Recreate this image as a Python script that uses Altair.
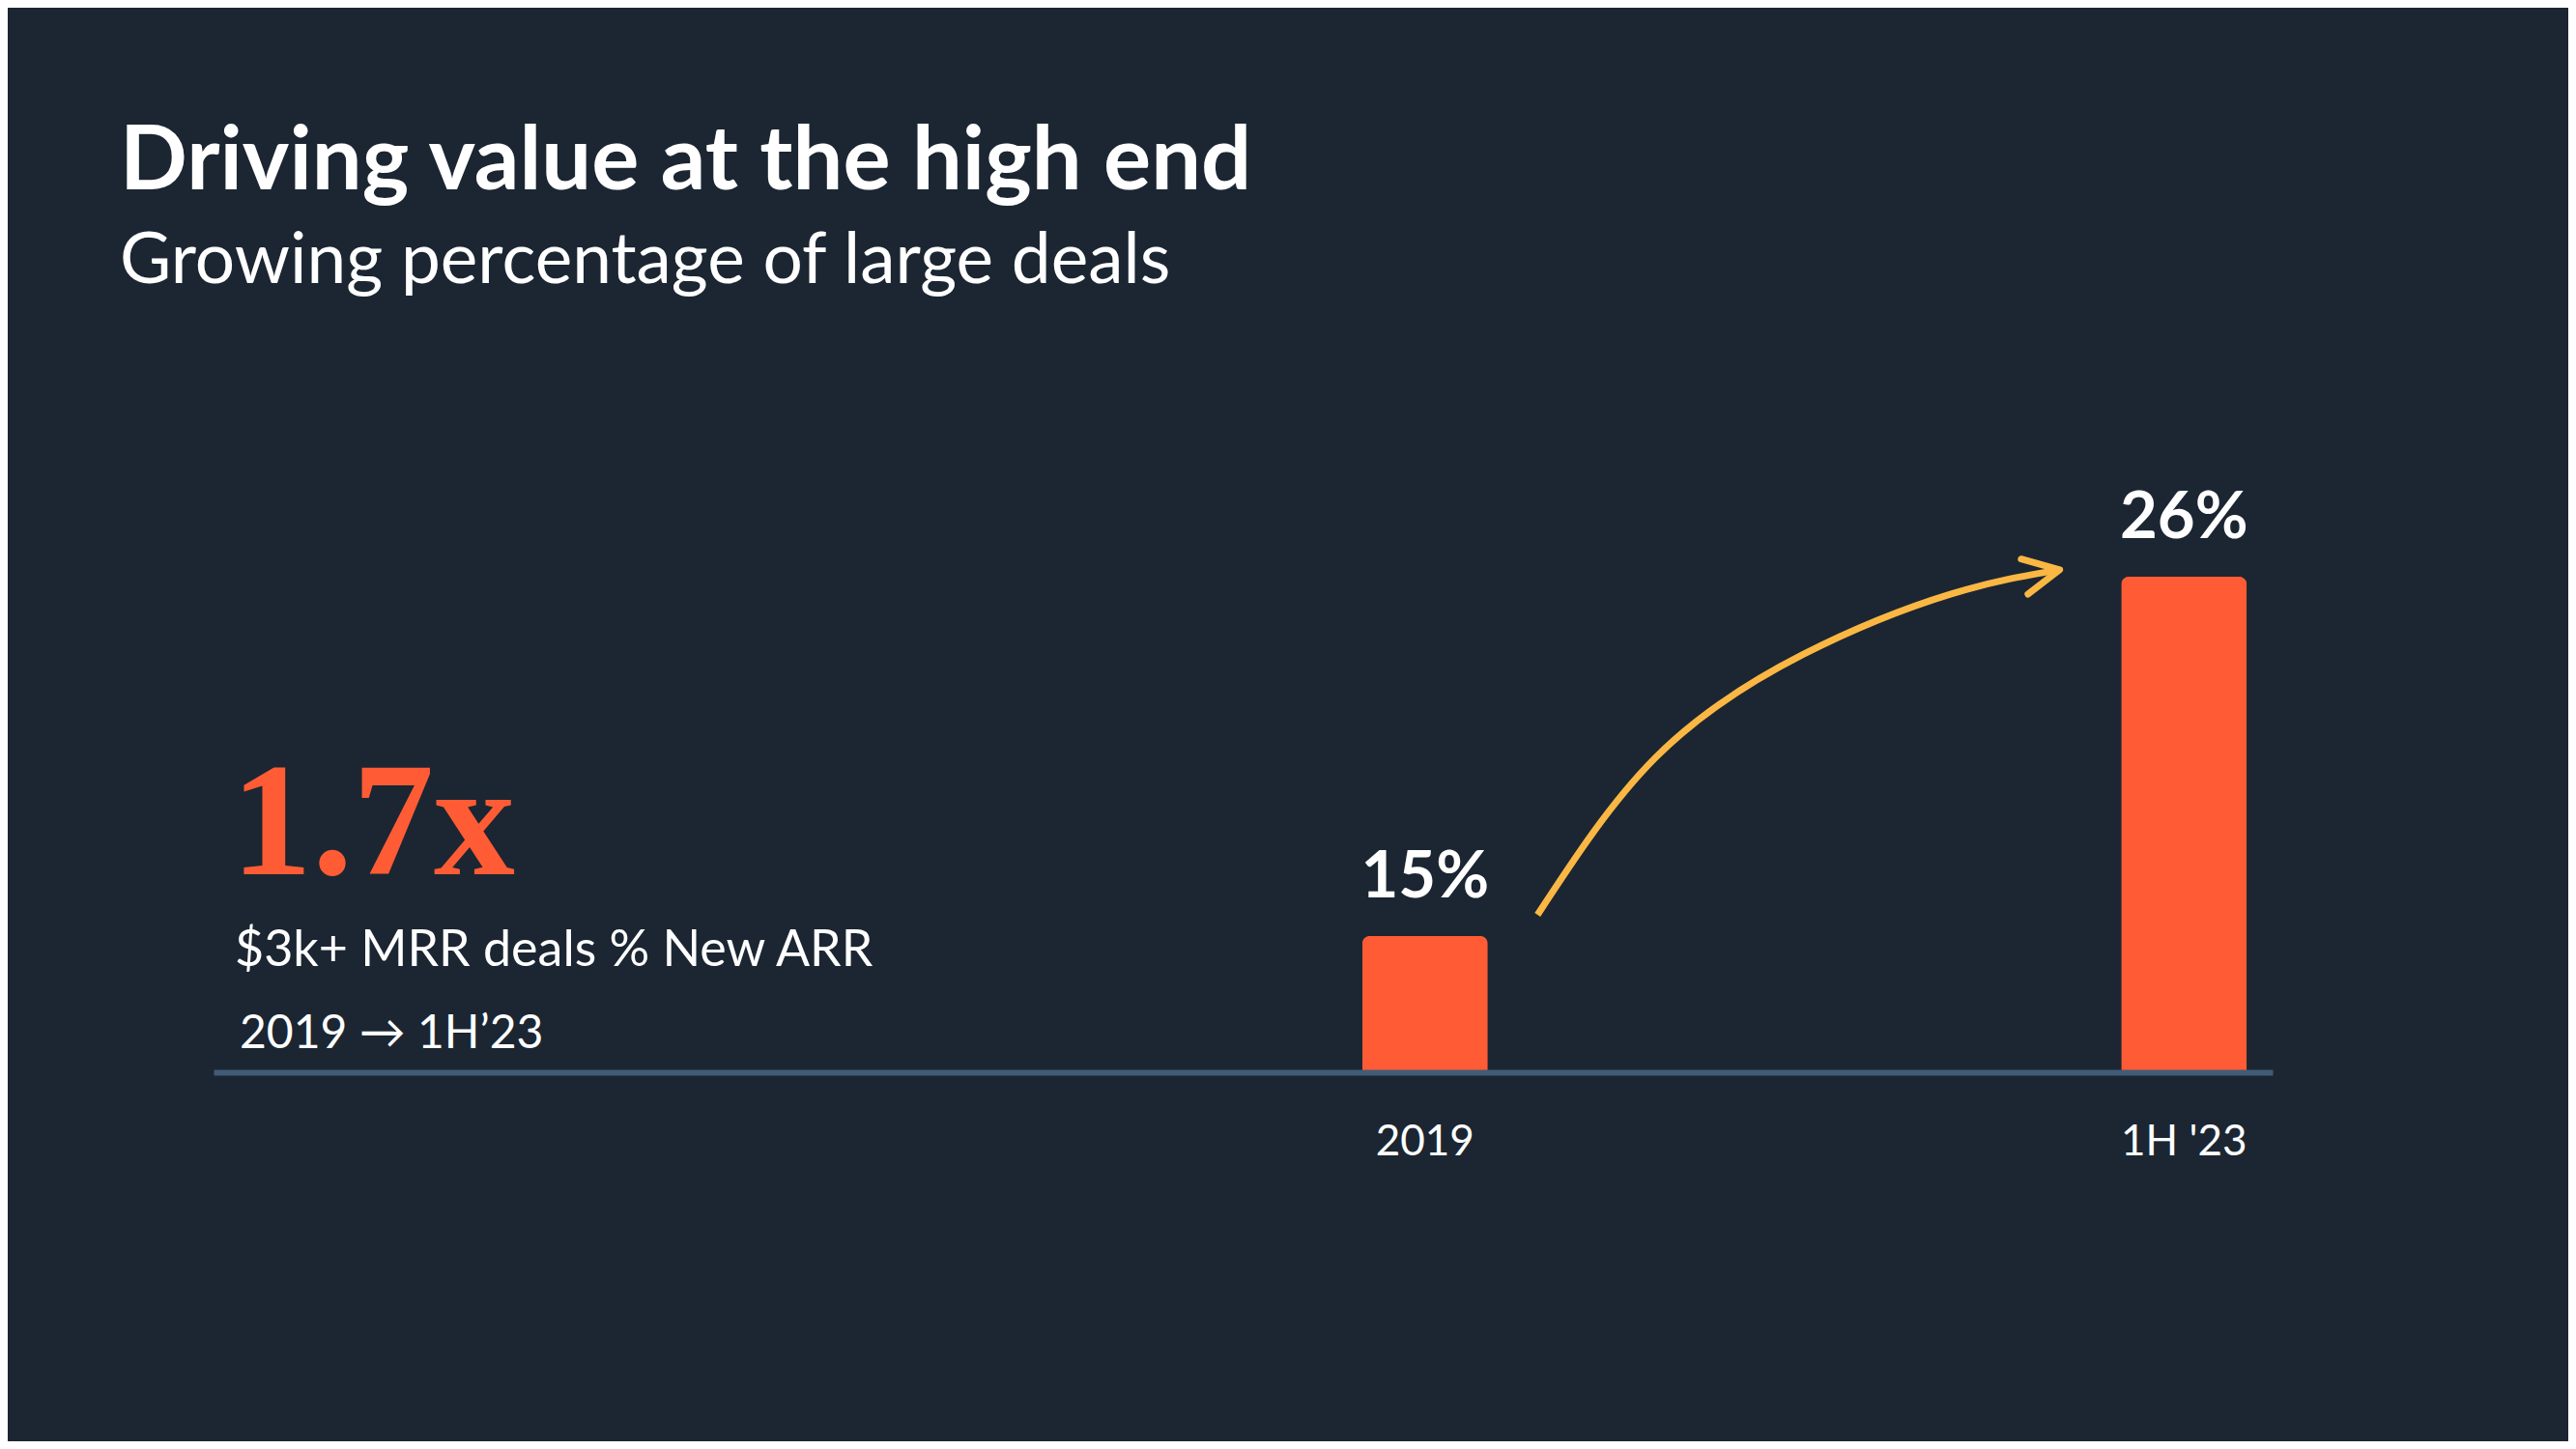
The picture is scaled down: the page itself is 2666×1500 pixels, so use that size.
import altair as alt
import pandas as pd

# ---- data ----
categories = ["2019", "1H '23"]
values = [15, 26]

# arrow annotation path (x in "category steps" from the 2019 bar centre, y in % units)
arrow_t = [0.148, 0.303, 0.498, 0.693, 0.836]
arrow_v = [15.65, 20.45, 23.62, 25.47, 26.21]

headline = ["1.7x"]
metric_label = ["$3k+ MRR deals % New ARR"]
period_label = ["2019 → 1H’23"]
title_text = "Driving value at the high end"
subtitle_text = "Growing percentage of large deals"

# ---- styling ----
BG = "#1B2632"
ORANGE = "#FF5C35"
AXIS = "#425B76"
ARROW = "#FBB744"
FONT = "Lato"

W, H = 2131, 716

bars_df = pd.DataFrame({"category": categories, "value": values})
arrow_df = pd.DataFrame({"t": arrow_t, "v": arrow_v})
tip_df = pd.DataFrame({"t": [arrow_t[-1]], "v": [arrow_v[-1]]})

yscale = alt.Scale(domain=[10.83, 32], zero=False, nice=False, clamp=True)
xband = alt.Scale(type="band", paddingInner=0.8345, paddingOuter=0.7737, align=0.978)
tscale = alt.Scale(domain=[-1.5964, 1.1165], zero=False, nice=False)

bars = alt.Chart(bars_df).mark_bar(
    color=ORANGE, cornerRadiusTopLeft=8, cornerRadiusTopRight=8
).encode(
    x=alt.X("category:N", sort=categories, scale=xband,
            axis=alt.Axis(title=None, domainColor=AXIS, domainWidth=6, ticks=False,
                          labelColor="white", labelFont=FONT, labelFontSize=44,
                          labelPadding=85, labelBaseline="alphabetic", labelAngle=0,
                          grid=False, zindex=1)),
    y=alt.Y("value:Q", scale=yscale, axis=None),
)

value_text = alt.Chart(bars_df).transform_calculate(
    label="format(datum.value, 'd') + '%'"
).mark_text(
    color="white", font=FONT, fontSize=67, fontWeight="bold",
    baseline="alphabetic", align="center", dy=-40
).encode(
    x=alt.X("category:N", sort=categories, scale=xband, axis=None),
    y=alt.Y("value:Q", scale=yscale, axis=None),
    text="label:N",
)

arrow_line = alt.Chart(arrow_df).mark_line(
    color=ARROW, strokeWidth=7, interpolate="natural", strokeCap="butt"
).encode(
    x=alt.X("t:Q", scale=tscale, axis=None),
    y=alt.Y("v:Q", scale=yscale, axis=None),
    order="t:Q",
)

arrow_head = alt.Chart(tip_df).mark_point(
    shape="M -2 -1 L 0 0 L -2 1", size=1369, angle=349, filled=False,
    color=ARROW, strokeWidth=7, strokeCap="round", strokeJoin="round", opacity=1
).encode(
    x=alt.X("t:Q", scale=tscale, axis=None),
    y=alt.Y("v:Q", scale=yscale, axis=None),
)

big = alt.Chart(pd.DataFrame({"s": headline})).mark_text(
    color=ORANGE, font="Liberation Serif", fontSize=168, fontWeight="bold",
    align="left", baseline="alphabetic"
).encode(text="s:N", x=alt.value(18), y=alt.value(511))

metric = alt.Chart(pd.DataFrame({"s": metric_label})).mark_text(
    color="white", font=FONT, fontSize=52, align="left", baseline="alphabetic"
).encode(text="s:N", x=alt.value(22), y=alt.value(606))

period = alt.Chart(pd.DataFrame({"s": period_label})).mark_text(
    color="white", font=FONT, fontSize=48, align="left", baseline="alphabetic"
).encode(text="s:N", x=alt.value(27), y=alt.value(691))

chart = alt.layer(
    bars, value_text, arrow_line, arrow_head, big, metric, period
).resolve_scale(
    x="independent"
).properties(
    width=W, height=H,
    padding={"left": 213, "top": 386, "right": 306, "bottom": 382},
    autosize=alt.AutoSizeParams(type="none"),
    background=BG,
    title=alt.TitleParams(
        text=title_text, subtitle=subtitle_text, anchor="start", dx=-97,
        color="white", subtitleColor="white", font=FONT, fontSize=92,
        fontWeight="bold", subtitleFont=FONT, subtitleFontSize=73,
        subtitleFontWeight="normal", offset=85, subtitlePadding=20,
    ),
).configure_view(stroke=None)

chart.save("out.html", embed_options={"renderer": "svg", "actions": False})
